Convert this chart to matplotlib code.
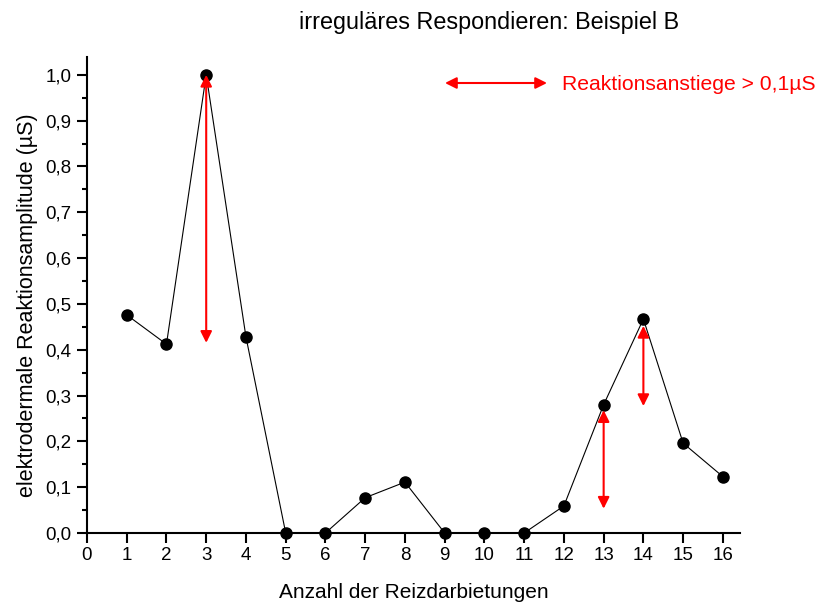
import matplotlib.pyplot as plt
from matplotlib.ticker import MultipleLocator, FuncFormatter

plt.rcParams['font.family'] = ['Liberation Sans', 'DejaVu Sans']

# Reizdarbietungen und Amplituden
durchgang = [1, 2, 3, 4, 5, 6, 7, 8, 9, 10, 11, 12, 13, 14, 15, 16]
amplitude = [0.476, 0.412, 1.0, 0.428, 0.0, 0.0, 0.077, 0.111, 0.0, 0.0, 0.0,
             0.059, 0.280, 0.467, 0.196, 0.123]

# Reaktionsanstiege > 0,1 µS (x, von, bis)
anstieg_x = [3, 13, 14]
anstieg_von = [0.415, 0.053, 0.277]
anstieg_bis = [1.0, 0.268, 0.452]

fig = plt.figure(figsize=(8.19, 6.06), dpi=100)
ax = fig.add_axes([0.1062, 0.1205, 0.7973, 0.7855])

ax.plot(durchgang, amplitude, color='black', lw=0.8, marker='o',
        markersize=8, clip_on=False, zorder=3)

pfeil = dict(arrowstyle='<|-|>', color='red', lw=1.5,
             mutation_scale=17, shrinkA=0, shrinkB=0)
for x, y0, y1 in zip(anstieg_x, anstieg_von, anstieg_bis):
    ax.annotate('', xy=(x, y1), xytext=(x, y0), arrowprops=pfeil, zorder=4)

# Legende mit Doppelpfeil
ax.annotate('', xy=(547 / 819, 1 - 83 / 606), xytext=(445 / 819, 1 - 83 / 606),
            xycoords='figure fraction', textcoords='figure fraction',
            arrowprops=pfeil)
fig.text(562 / 819, 1 - 84 / 606, 'Reaktionsanstiege > 0,1µS', color='red',
         fontsize=15.2, va='center', ha='left')

ax.set_xlim(0, 16.43)
ax.set_ylim(0, 1.039)
ax.xaxis.set_major_locator(MultipleLocator(1))
ax.yaxis.set_major_locator(MultipleLocator(0.1))
ax.yaxis.set_minor_locator(MultipleLocator(0.05))
ax.yaxis.set_major_formatter(FuncFormatter(lambda v, p: f'{v:.1f}'.replace('.', ',')))

for side in ['top', 'right']:
    ax.spines[side].set_visible(False)
for side in ['left', 'bottom']:
    ax.spines[side].set_linewidth(1.5)
ax.tick_params(which='major', length=7, width=1.5, labelsize=13.5, direction='out')
ax.tick_params(which='minor', length=3.6, width=1.5, direction='out')
ax.tick_params(axis='y', which='major', pad=4.3)
ax.tick_params(axis='x', which='major', pad=3)

ax.set_xlabel('Anzahl der Reizdarbietungen', fontsize=15, labelpad=14)
fig.text(28 / 819, 1 - 305 / 606, 'elektrodermale Reaktionsamplitude (µS)',
         fontsize=15.5, rotation=90, ha='center', va='center')
fig.text(489 / 819, 1 - 22 / 606, 'irreguläres Respondieren: Beispiel B',
         fontsize=16.8, ha='center', va='center')

fig.savefig('out.png', dpi=100)
